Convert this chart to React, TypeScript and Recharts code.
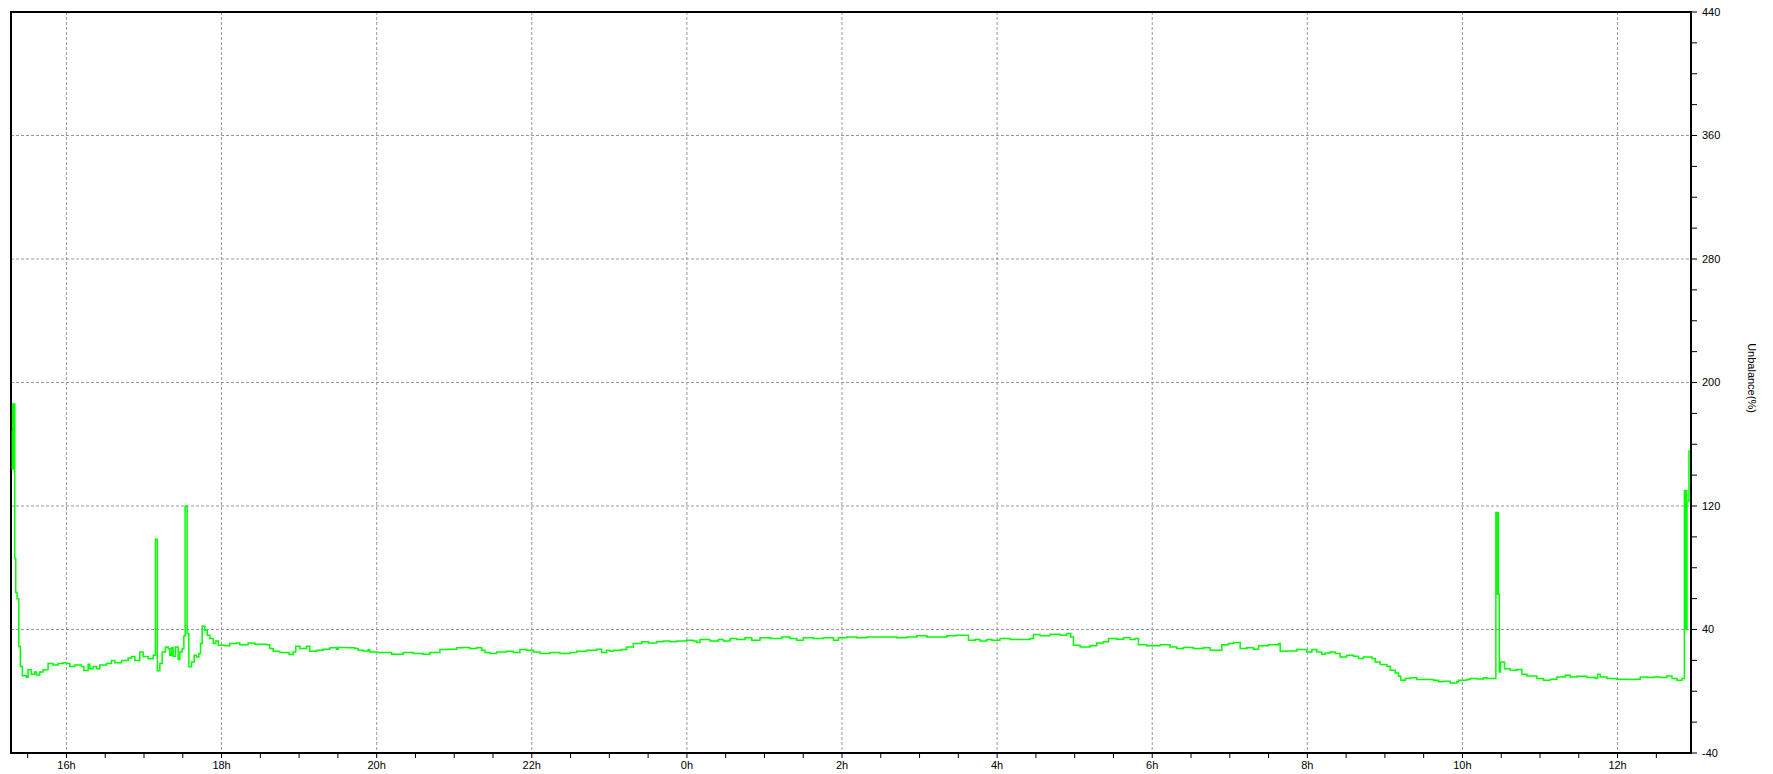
import { LineChart, Line, XAxis, YAxis, CartesianGrid, ReferenceArea } from "recharts";

// [hour, unbalance %] — hours after midnight continue past 24
const afternoon: [number, number][] = [
  [15.298, 169], [15.302, 144], [15.306, 186], [15.31, 144], [15.314, 186], [15.318, 144],
  [15.322, 186], [15.326, 144], [15.33, 186], [15.333, 86], [15.346, 64], [15.363, 60],
  [15.385, 29], [15.406, 16], [15.432, 10], [15.484, 9], [15.505, 14], [15.548, 11],
  [15.591, 12.5], [15.613, 10.5], [15.656, 12.5], [15.699, 14], [15.763, 18], [15.828, 17],
  [15.892, 18], [15.957, 18.5], [16.0, 18], [16.043, 16], [16.108, 17], [16.194, 16],
  [16.224, 13.5], [16.28, 17.5], [16.301, 14.5], [16.344, 16], [16.387, 14.5], [16.43, 17],
  [16.516, 18], [16.581, 20], [16.624, 18.5], [16.71, 20], [16.796, 21.5], [16.839, 22.5],
  [16.882, 20], [16.946, 25.5], [16.989, 22.5], [17.054, 21], [17.118, 23.3],
];

const spikes: [number, number][] = [
  [17.148, 98.5], [17.172, 13.2], [17.204, 18], [17.234, 25.5], [17.277, 28.7], [17.312, 27.6],
  [17.333, 23.3], [17.355, 28.1], [17.376, 22.7], [17.406, 28.7], [17.44, 20.5], [17.462, 25.5],
  [17.492, 27.6], [17.514, 35.8], [17.53, 119.8], [17.556, 37.4], [17.578, 15.8], [17.613, 19],
  [17.647, 23.3], [17.677, 22.2], [17.707, 24.4], [17.729, 30.9], [17.75, 42.1], [17.784, 39.5],
  [17.815, 36.3], [17.849, 34.1], [17.892, 30.9], [17.926, 32.6], [17.957, 29.8], [18.043, 29.4],
];

const evening: [number, number][] = [
  [18.106, 30.9], [18.192, 31.3], [18.235, 30.2], [18.343, 31.3], [18.429, 30.5], [18.579, 30.2],
  [18.622, 27.7], [18.665, 25.9], [18.751, 25.1], [18.871, 23.8], [18.923, 25.5], [18.957, 29.2],
  [19.009, 27.7], [19.095, 29.2], [19.138, 25.9], [19.224, 26.6], [19.31, 27.2], [19.396, 28.1],
  [19.482, 27.2], [19.504, 28.3], [19.611, 28.1], [19.719, 27.7], [19.762, 26.6], [19.826, 26.1],
  [19.891, 27], [19.912, 25.5], [19.998, 25.1], [20.192, 24], [20.342, 25.1], [20.471, 24.4],
  [20.6, 24], [20.686, 25.1], [20.815, 27], [20.944, 27.2], [21.03, 28.1], [21.116, 28.3],
  [21.202, 27.7], [21.288, 28.1], [21.353, 26.6], [21.396, 25.1], [21.46, 24.4], [21.546, 25.5],
  [21.675, 25.9], [21.761, 25.1], [21.847, 27], [21.933, 26.6], [22.019, 25.5], [22.105, 24.4],
  [22.234, 25.1], [22.363, 24.4], [22.492, 25.1], [22.578, 25.9], [22.707, 26.6], [22.836, 27.2],
];

const night: [number, number][] = [
  [22.901, 25.1], [22.965, 26.6], [23.008, 25.9], [23.051, 26.6], [23.159, 27], [23.223, 28.7],
  [23.309, 30.9], [23.417, 32], [23.503, 31.3], [23.61, 32], [23.696, 32.6], [23.782, 32],
  [23.868, 32.6], [23.997, 33.1], [24.083, 32.6], [24.126, 31.5], [24.169, 33.5], [24.298, 32.6],
  [24.406, 33.5], [24.47, 32.6], [24.556, 34.1], [24.642, 33.5], [24.75, 34.6], [24.836, 33.1],
  [24.943, 34.6], [25.072, 34.1], [25.223, 35.2], [25.33, 34.1], [25.416, 33.1], [25.502, 34.6],
  [25.631, 34.1], [25.76, 34.6], [25.889, 33.1], [25.954, 34.6], [26.061, 35.2], [26.19, 34.6],
  [26.319, 35.2], [26.706, 34.6], [26.835, 35.2], [26.964, 35.9], [27.093, 35.2], [27.351, 35.9],
  [27.48, 36.3],
];

const morning: [number, number][] = [
  [27.565, 36.3], [27.63, 33.1], [27.716, 33.5], [27.78, 32.6], [27.866, 33.5], [27.931, 33.1],
  [28.038, 34.1], [28.167, 33.5], [28.425, 34.1], [28.468, 36.7], [28.554, 35.9], [28.683, 36.9],
  [28.812, 36.3], [28.898, 37.4], [28.95, 35.2], [28.984, 29.8], [29.07, 28.7], [29.199, 29.4],
  [29.285, 31.3], [29.371, 32], [29.436, 34.1], [29.543, 33.7], [29.629, 34.6], [29.715, 33.5],
  [29.78, 34.1], [29.823, 30.2], [29.93, 29.4], [30.102, 30.2], [30.231, 28.7], [30.317, 27.7],
  [30.403, 28.3], [30.532, 27.7], [30.661, 28.1], [30.747, 26.6], [30.898, 30.2], [30.984, 30.9],
  [31.048, 31.5], [31.134, 27.7], [31.22, 28.1], [31.306, 27.2], [31.371, 29.4], [31.5, 30.2],
  [31.629, 30.9], [31.65, 25.9], [31.736, 26.1], [31.865, 27], [31.994, 25.5], [32.059, 27],
  [32.123, 25.5],
];

const lateMorning: [number, number][] = [
  [32.187, 24], [32.23, 24.8], [32.294, 25.5], [32.359, 24.4], [32.423, 22.2], [32.509, 23.3],
  [32.595, 22.7], [32.66, 21.2], [32.724, 22.2], [32.832, 21.2], [32.875, 19], [32.939, 17.3],
  [33.025, 16.2], [33.068, 13.6], [33.133, 11.9], [33.176, 9.7], [33.206, 7.2], [33.262, 8.2],
  [33.326, 8.7], [33.412, 7.6], [33.627, 7.2], [33.692, 6.1], [33.756, 6.5], [33.842, 5.4],
  [33.928, 6.1], [33.95, 7.2], [34.057, 7.6], [34.1, 8.2], [34.186, 8], [34.272, 8.7],
  [34.315, 8.2],
];

const noon: [number, number][] = [
  [34.431, 115.8], [34.44, 62.8], [34.446, 115.8], [34.462, 62.8], [34.475, 12.5], [34.49, 19],
  [34.542, 14.6], [34.616, 13.6], [34.702, 14.1], [34.767, 11], [34.831, 9.9], [34.96, 8.2],
  [35.046, 7.2], [35.132, 7.8], [35.218, 9.3], [35.326, 10.4], [35.39, 9.3], [35.476, 9.7],
  [35.605, 8.9], [35.713, 8.2], [35.743, 11], [35.777, 9.3], [35.863, 8.2], [35.992, 7.8],
  [36.121, 7.6], [36.229, 7.8], [36.293, 9.3], [36.379, 8.9], [36.465, 9.3], [36.551, 8.9],
  [36.637, 9.9], [36.702, 8.2], [36.766, 7.2], [36.831, 8.2], [36.862, 129.8], [36.868, 40.4],
  [36.874, 129.8], [36.88, 40.4], [36.886, 129.8], [36.892, 40.4], [36.895, 123.1],
  [36.921, 155.7], [36.945, 155.7],
];

const xTicks = [
  15.5, 16, 16.5, 17, 17.5, 18, 18.5, 19, 19.5, 20, 20.5, 21, 21.5, 22, 22.5, 23, 23.5, 24,
  24.5, 25, 25.5, 26, 26.5, 27, 27.5, 28, 28.5, 29, 29.5, 30, 30.5, 31, 31.5, 32, 32.5, 33,
  33.5, 34, 34.5, 35, 35.5, 36, 36.5,
];
const xGrid = [16, 18, 20, 22, 24, 26, 28, 30, 32, 34, 36];
const yTicks = [
  -40, -20, 0, 20, 40, 60, 80, 100, 120, 140, 160, 180, 200, 220, 240, 260, 280, 300, 320,
  340, 360, 380, 400, 420, 440,
];
const yLabels = [-40, 40, 120, 200, 280, 360, 440];
const yGrid = [40, 120, 200, 280, 360];

const X_MIN = 15.285;
const X_MAX = 36.947;

const data = [...afternoon, ...spikes, ...evening, ...night, ...morning, ...lateMorning, ...noon].map(
  ([h, v]) => ({ h, v })
);

const font = "'Liberation Sans', Arial, sans-serif";

export default function App() {
  return (
    <div style={{ position: "relative", width: 1773, height: 774, background: "#fff" }}>
      <style>{"body{margin:0}"}</style>
      <LineChart
        width={1773}
        height={774}
        data={data}
        margin={{ top: 12, right: 0, bottom: 0, left: 11 }}
      >
        <CartesianGrid
          stroke="#999"
          strokeDasharray="3 2"
          horizontalValues={yGrid}
          verticalValues={xGrid}
        />
        <XAxis
          dataKey="h"
          type="number"
          domain={[X_MIN, X_MAX]}
          allowDataOverflow
          ticks={xTicks}
          interval={0}
          height={21}
          tickSize={5}
          tickMargin={3}
          axisLine={{ stroke: "#000", strokeWidth: 2 }}
          tickLine={{ stroke: "#000" }}
          tick={{ fontSize: 11, fill: "#000", fontFamily: font }}
          tickFormatter={(v: number) => (v % 2 === 0 ? `${v % 24}h` : "")}
        />
        <YAxis
          orientation="right"
          domain={[-40, 440]}
          allowDataOverflow
          ticks={yTicks}
          interval={0}
          width={82}
          tickSize={6}
          tickMargin={5}
          axisLine={{ stroke: "#000", strokeWidth: 2 }}
          tickLine={{ stroke: "#000" }}
          tick={{ fontSize: 11, fill: "#000", fontFamily: font }}
          tickFormatter={(v: number) => (yLabels.includes(v) ? String(v) : "")}
        />
        <ReferenceArea
          x1={X_MIN}
          x2={X_MAX}
          y1={-40}
          y2={440}
          fill="none"
          stroke="#000"
          strokeWidth={2}
          ifOverflow="visible"
        />
        <Line
          type="stepAfter"
          dataKey="v"
          stroke="#00ff00"
          strokeWidth={1.5}
          dot={false}
          isAnimationActive={false}
        />
      </LineChart>
      <div
        style={{
          position: "absolute",
          left: 1752,
          top: 378,
          transform: "translate(-50%, -50%) rotate(90deg)",
          fontFamily: font,
          fontSize: 11,
          whiteSpace: "nowrap",
          color: "#000",
        }}
      >
        Unbalance(%)
      </div>
    </div>
  );
}
